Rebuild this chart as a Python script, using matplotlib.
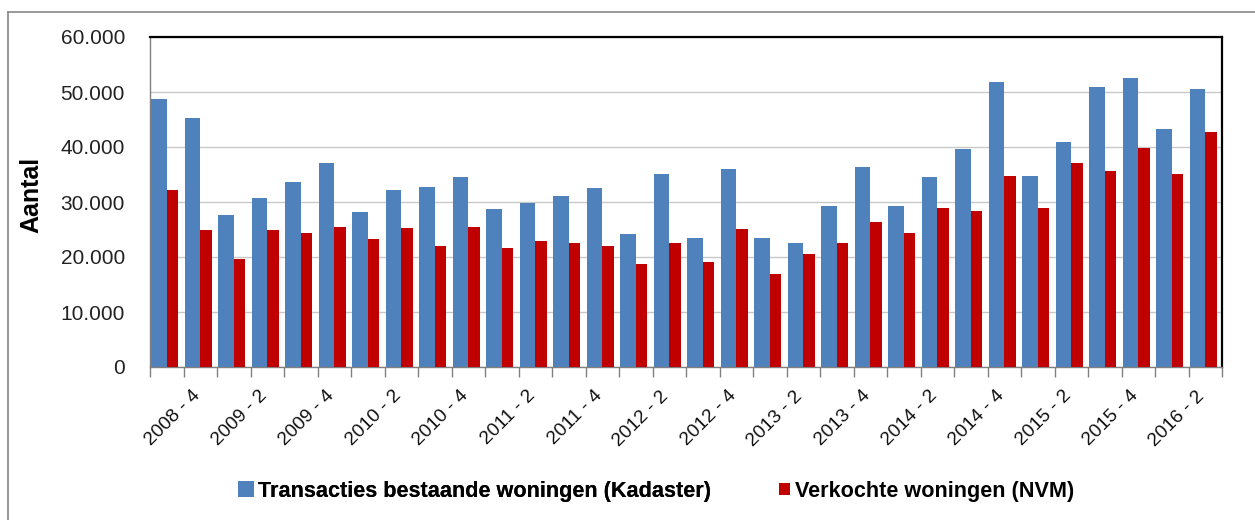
import matplotlib
matplotlib.use("Agg")
import matplotlib.pyplot as plt
import numpy as np
from matplotlib.lines import Line2D
from matplotlib.patches import Patch
from matplotlib.transforms import ScaledTranslation

plt.rcParams['font.family'] = ['Liberation Sans', 'DejaVu Sans']

quarters = ["2008 - 3", "2008 - 4",
            "2009 - 1", "2009 - 2", "2009 - 3", "2009 - 4",
            "2010 - 1", "2010 - 2", "2010 - 3", "2010 - 4",
            "2011 - 1", "2011 - 2", "2011 - 3", "2011 - 4",
            "2012 - 1", "2012 - 2", "2012 - 3", "2012 - 4",
            "2013 - 1", "2013 - 2", "2013 - 3", "2013 - 4",
            "2014 - 1", "2014 - 2", "2014 - 3", "2014 - 4",
            "2015 - 1", "2015 - 2", "2015 - 3", "2015 - 4",
            "2016 - 1", "2016 - 2"]

kadaster = [48800, 45350, 27600, 30750, 33650, 37150, 28200, 32150,
            32750, 34550, 28700, 29850, 31050, 32500, 24250, 35100,
            23400, 35950, 23400, 22550, 29300, 36350, 29300, 34550,
            39600, 51750, 34750, 40900, 50850, 52600, 43300, 50550]

nvm = [32250, 24980, 19700, 24980, 24400, 25450, 23200, 25200,
       22000, 25450, 21700, 22850, 22550, 21950, 18800, 22550,
       19100, 25150, 17000, 20500, 22550, 26350, 24400, 28950,
       28350, 34750, 28950, 37150, 35650, 39800, 35100, 42650]

label_kad = "Transacties bestaande woningen (Kadaster)"
label_nvm = "Verkochte woningen (NVM)"
y_label = "Aantal"
yticks = [0, 10000, 20000, 30000, 40000, 50000, 60000]
ytick_labels = ["0", "10.000", "20.000", "30.000", "40.000", "50.000", "60.000"]

blue = "#4F81BD"
red = "#C00000"

fig = plt.figure(figsize=(12.55, 5.2), dpi=100)
ax = fig.add_axes([150/1255, 1 - 367/520, (1222 - 150)/1255, (367 - 37)/520])

x = np.arange(len(quarters))
ax.bar(x - 0.47, kadaster, width=0.47, align='edge', color=blue, zorder=2, linewidth=0)
ax.bar(x + 0.0, nvm, width=0.34, align='edge', color=red, zorder=3, linewidth=0)

ax.set_xlim(-0.5, len(quarters) - 0.5)
ax.set_ylim(0, 60000)
ax.set_yticks(yticks)
ax.set_yticklabels(ytick_labels, fontsize=15, color="#222222")
ax.yaxis.grid(True, color="#C8C8C8", linewidth=1.0, zorder=0)
ax.set_axisbelow(True)
ax.tick_params(axis='y', length=0, pad=18)

# label ticks at every other category
lab_idx = list(range(1, len(quarters), 2))
ax.set_xticks(lab_idx)
ax.set_xticklabels([quarters[i] for i in lab_idx], rotation=45, ha='right',
                   va='center', rotation_mode='anchor', fontsize=13.8, color="#111111")
ax.tick_params(axis='x', which='major', length=0, pad=19)
shift = ScaledTranslation(-3/100, 0, fig.dpi_scale_trans)
for lbl in ax.get_xticklabels():
    lbl.set_transform(lbl.get_transform() + shift)
ax.set_xticks(np.arange(-0.5, len(quarters), 1.0), minor=True)
ax.tick_params(axis='x', which='minor', length=7, width=1, color="#808080", direction='out')

for s in ['top', 'right']:
    ax.spines[s].set_color('black')
    ax.spines[s].set_linewidth(1.6)
for s in ['left', 'bottom']:
    ax.spines[s].set_color('#808080')
    ax.spines[s].set_linewidth(1.0)

fig.text(31/1255, 1 - 195/520, y_label, rotation=90, fontsize=18, fontweight='bold',
         ha='center', va='center')

leg_prop = {'size': 15.6, 'weight': 'bold'}
fs_px = 15.6 * 100 / 72
leg1 = fig.legend([Patch(facecolor=blue, edgecolor='none')], [label_kad],
                  loc='center left', bbox_to_anchor=(238/1255, 1 - 491/520),
                  frameon=False, prop=leg_prop, borderpad=0, borderaxespad=0,
                  handlelength=16/fs_px, handleheight=16/fs_px, handletextpad=4/fs_px)
fig.add_artist(leg1)
leg2 = fig.legend([Patch(facecolor=red, edgecolor='none')], [label_nvm],
                  loc='center left', bbox_to_anchor=(779/1255, 1 - 491/520),
                  frameon=False, prop=leg_prop, borderpad=0, borderaxespad=0,
                  handlelength=11/fs_px, handleheight=10/fs_px, handletextpad=5/fs_px)

# outer chart border (left and top visible)
fig.add_artist(Line2D([8/1255, 8/1255], [0, 1 - 12/520], transform=fig.transFigure,
                      color="#888888", linewidth=1.2))
fig.add_artist(Line2D([8/1255, 1], [1 - 12/520, 1 - 12/520], transform=fig.transFigure,
                      color="#888888", linewidth=1.2))

fig.savefig("out.png", dpi=100)
